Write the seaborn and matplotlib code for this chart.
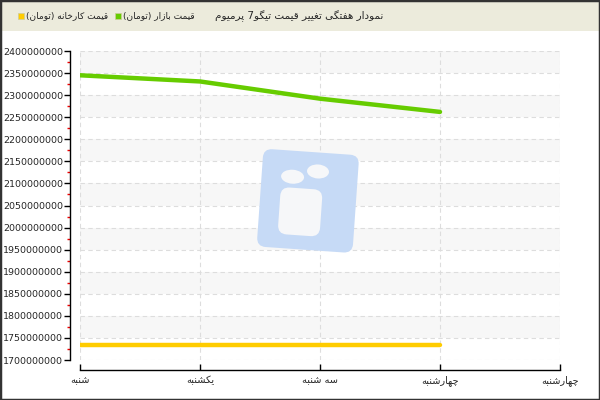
import numpy as np
import pandas as pd
import matplotlib
matplotlib.use("Agg")
import matplotlib.pyplot as plt
import matplotlib.transforms as transforms
from matplotlib.patches import Rectangle, FancyBboxPatch, Ellipse
from matplotlib.ticker import MultipleLocator, FuncFormatter
import seaborn as sns

# --- data ---
days = ['شنبه', 'یکشنبه', 'سه شنبه', 'چهارشنبه', 'چهارشنبه']
market_price = [2345000000, 2331000000, 2292000000, 2262000000]
factory_price = [1733000000, 1733000000, 1733000000, 1733000000]
title = 'نمودار هفتگی تغییر قیمت تیگو7 پرمیوم'
market_label = 'قیمت بازار (تومان)'
factory_label = 'قیمت کارخانه (تومان)'

# minimal Persian shaping (matplotlib has no bidi / joining)
FORMS = {
    'ا': ('\uFE8D', '\uFE8E', None, None),
    'ب': ('\uFE8F', '\uFE90', '\uFE91', '\uFE92'),
    'پ': ('\uFB56', '\uFB57', '\uFB58', '\uFB59'),
    'ت': ('\uFE95', '\uFE96', '\uFE97', '\uFE98'),
    'چ': ('\uFB7A', '\uFB7B', '\uFB7C', '\uFB7D'),
    'خ': ('\uFEA5', '\uFEA6', '\uFEA7', '\uFEA8'),
    'د': ('\uFEA9', '\uFEAA', None, None),
    'ر': ('\uFEAD', '\uFEAE', None, None),
    'ز': ('\uFEAF', '\uFEB0', None, None),
    'س': ('\uFEB1', '\uFEB2', '\uFEB3', '\uFEB4'),
    'ش': ('\uFEB5', '\uFEB6', '\uFEB7', '\uFEB8'),
    'غ': ('\uFECD', '\uFECE', '\uFECF', '\uFED0'),
    'ف': ('\uFED1', '\uFED2', '\uFED3', '\uFED4'),
    'ق': ('\uFED5', '\uFED6', '\uFED7', '\uFED8'),
    'ک': ('\uFB8E', '\uFB8F', '\uFB90', '\uFB91'),
    'گ': ('\uFB92', '\uFB93', '\uFB94', '\uFB95'),
    'م': ('\uFEE1', '\uFEE2', '\uFEE3', '\uFEE4'),
    'ن': ('\uFEE5', '\uFEE6', '\uFEE7', '\uFEE8'),
    'ه': ('\uFEE9', '\uFEEA', '\uFEEB', '\uFEEC'),
    'و': ('\uFEED', '\uFEEE', None, None),
    'ی': ('\uFBFC', '\uFBFD', '\uFBFE', '\uFBFF'),
}

def shape(s):
    out = []
    for i, ch in enumerate(s):
        if ch not in FORMS:
            out.append(ch)
            continue
        f = FORMS[ch]
        prev = s[i - 1] if i > 0 else ''
        nxt = s[i + 1] if i + 1 < len(s) else ''
        jp = prev in FORMS and FORMS[prev][2] is not None
        jn = f[2] is not None and nxt in FORMS
        if jp and jn:
            out.append(f[3])
        elif jp:
            out.append(f[1])
        elif jn:
            out.append(f[2])
        else:
            out.append(f[0])
    return ''.join(out)[::-1].translate(str.maketrans('()', ')('))


sns.set_theme(style="white")
plt.rcParams['font.family'] = ['DejaVu Sans']

fig = plt.figure(figsize=(6, 4), dpi=100)
ax = fig.add_axes([80 / 600, 1 - 360 / 400, 480 / 600, 309 / 400])

pos = list(range(len(days)))
df = pd.DataFrame({'x': pos[:len(market_price)], 'market': market_price, 'factory': factory_price})

# alternating bands
ymin, ymax, step = 1700000000, 2400000000, 50000000
for top in range(ymax, ymin, -2 * step):
    ax.axhspan(top - step, top, color='#f7f7f7', zorder=0, lw=0)

sns.lineplot(data=df, x='x', y='factory', color='#ffcc00', lw=3.2, ax=ax, zorder=3)
sns.lineplot(data=df, x='x', y='market', color='#66cc00', lw=3.2, ax=ax, zorder=3)

ax.set_xlim(0, len(days) - 1)
ax.set_ylim(ymin, ymax)
ax.set_xlabel('')
ax.set_ylabel('')
ax.set_xticks(pos)
ax.set_xticklabels([shape(d) for d in days], fontsize=7)
ax.yaxis.set_major_locator(MultipleLocator(step))
ax.yaxis.set_minor_locator(MultipleLocator(step / 2))
ax.yaxis.set_major_formatter(FuncFormatter(lambda v, p: f"{int(round(v))}"))
ax.tick_params(axis='y', which='major', direction='out', length=4, width=1, color='black',
               labelsize=6.8, pad=1, left=True)
ax.tick_params(axis='y', which='minor', direction='out', length=2, width=1, color='#ee0000', left=True)
ax.tick_params(axis='x', which='major', direction='in', length=4, width=1, color='black',
               labelsize=7, pad=4, bottom=True)
ax.grid(True, which='major', color='#dddddd', ls=(0, (4, 3)), lw=0.8)
ax.set_axisbelow(True)

sns.despine(ax=ax, top=True, right=True)
ax.spines['left'].set_position(('outward', 7))
ax.spines['bottom'].set_position(('outward', 7))
ax.spines['left'].set_bounds(ymin, ymax)
for sp in ('left', 'bottom'):
    ax.spines[sp].set_color('black')
    ax.spines[sp].set_linewidth(1)
ax.patch.set_alpha(0)

# header bar with title and legend
fig.patches.append(Rectangle((0, 1 - 31 / 400), 1, 31 / 400, transform=fig.transFigure,
                             facecolor='#ecebdc', edgecolor='none', zorder=0))
fig.text(383 / 600, 1 - 16 / 400, shape(title), ha='right', va='center', fontsize=7.5)

renderer = fig.canvas.get_renderer()
x_px = 18
for label, col in [(factory_label, '#ffcc00'), (market_label, '#66cc00')]:
    fig.patches.append(Rectangle((x_px / 600, 1 - 19 / 400), 6 / 600, 6 / 400, transform=fig.transFigure,
                                 facecolor=col, edgecolor='#cccc99', lw=0.5))
    t = fig.text((x_px + 8) / 600, 1 - 16 / 400, shape(label), ha='left', va='center', fontsize=6.5)
    x_px = t.get_window_extent(renderer).x1 + 7

# watermark logo
wm = fig.add_axes([250 / 600, 1 - 260 / 400, 120 / 600, 120 / 400])
wm.set_xlim(0, 120)
wm.set_ylim(120, 0)
wm.axis('off')
rot = transforms.Affine2D().rotate_deg_around(60, 60, 4) + wm.transData
wm.add_patch(FancyBboxPatch((10, 12), 96, 98, boxstyle='round,pad=0,rounding_size=9',
                            facecolor='#c6daf6', edgecolor='none', transform=rot))
wm.add_patch(Ellipse((41, 38), 23, 14, facecolor='#f6f7f9', edgecolor='none', transform=rot))
wm.add_patch(Ellipse((66, 31), 22, 14, facecolor='#f6f7f9', edgecolor='none', transform=rot))
wm.add_patch(FancyBboxPatch((30, 49), 42, 47, boxstyle='round,pad=0,rounding_size=9',
                            facecolor='#f6f7f9', edgecolor='none', transform=rot))

# outer frame
fig.patches.append(Rectangle((0, 0), 1, 1, transform=fig.transFigure, fill=False,
                             edgecolor='#333333', lw=2.5, zorder=10))

fig.savefig('out.png', dpi=100)
